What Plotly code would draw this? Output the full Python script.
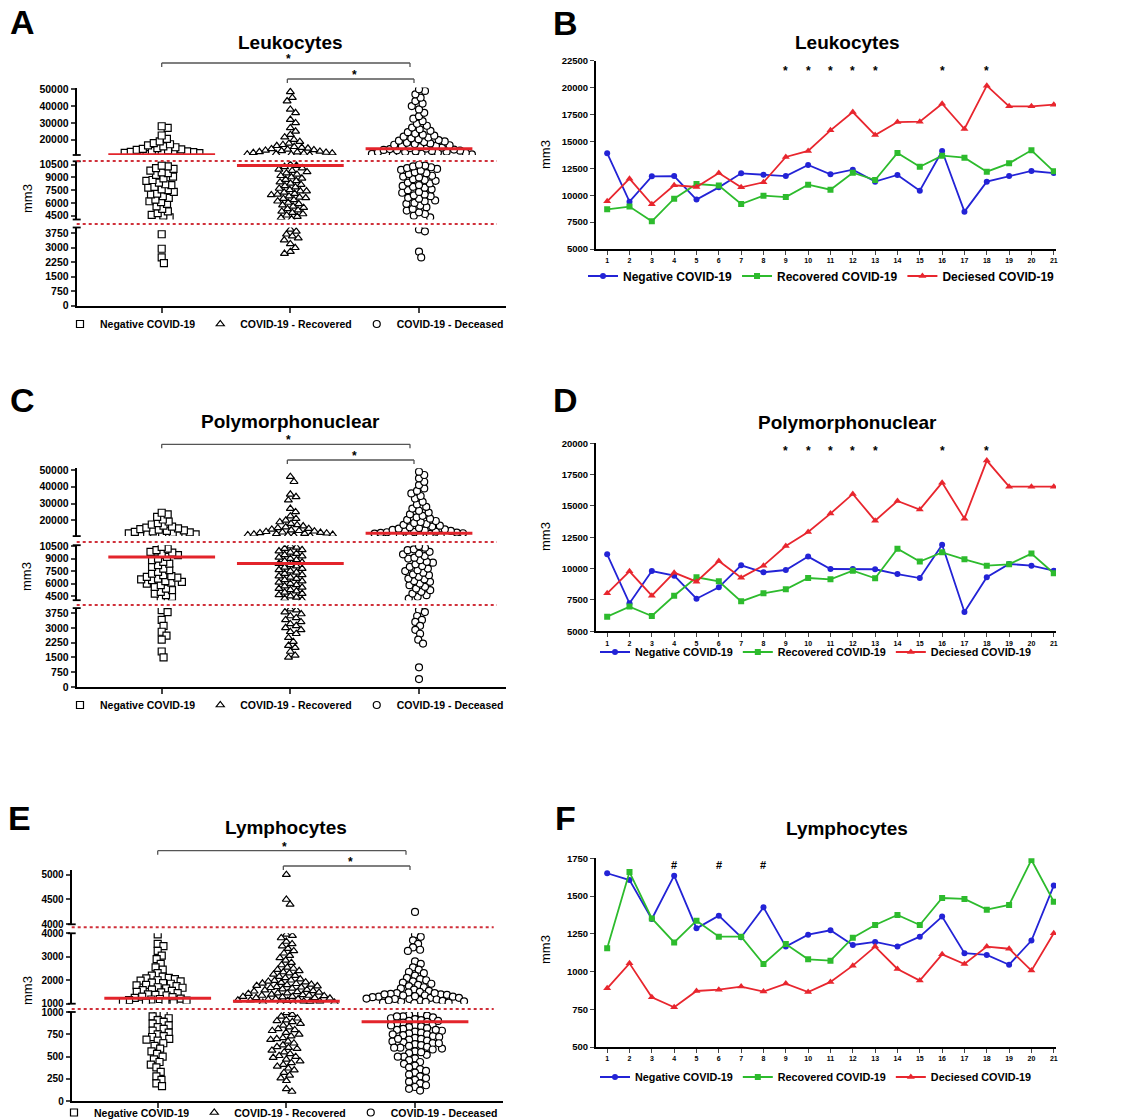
import math
import plotly.graph_objects as go

# ------------------------------------------------------------------ data
days = list(range(1, 22))
line_groups = ["Negative COVID-19", "Recovered COVID-19", "Deciesed COVID-19"]
swarm_groups = ["Negative COVID-19", "COVID-19 - Recovered", "COVID-19 - Deceased"]

# B - Leukocytes by day
leuk_line_neg = [13900, 9400, 11750, 11780, 9590, 10730, 12030, 11910, 11780, 12810, 11940,
                 12370, 11260, 11880, 10420, 14110, 8470, 11260, 11780, 12250, 12060]
leuk_line_rec = [8690, 8940, 7570, 9680, 11040, 10890, 9180, 9960, 9830, 10980, 10510,
                 12090, 11410, 13920, 12650, 13670, 13490, 12190, 12960, 14170, 12220]
leuk_line_dec = [9430, 11540, 9150, 10920, 10760, 12060, 10730, 11200, 13550, 14110, 16030,
                 17730, 15590, 16800, 16830, 18500, 16150, 20180, 18260, 18260, 18410]
leuk_star_days = [9, 10, 11, 12, 13, 16, 18]

# D - Polymorphonuclear by day
pmn_line_neg = [11140, 7230, 9810, 9440, 7600, 8510, 10260, 9710, 9890, 10960, 9970,
                9970, 9950, 9570, 9250, 11910, 6540, 9310, 10370, 10240, 9840]
pmn_line_rec = [6170, 6970, 6220, 7840, 9310, 8990, 7390, 8030, 8350, 9250, 9150,
                9840, 9230, 11590, 10560, 11300, 10740, 10240, 10340, 11200, 9630]
pmn_line_dec = [8030, 9790, 7840, 9680, 8960, 10610, 9280, 10240, 11810, 12920, 14390,
                15960, 13830, 15400, 14710, 16860, 13990, 18620, 16540, 16540, 16540]
pmn_star_days = [9, 10, 11, 12, 13, 16, 18]

# F - Lymphocytes by day
lym_line_neg = [1651, 1606, 1348, 1635, 1286, 1370, 1227, 1425, 1165, 1244, 1273,
                1176, 1196, 1165, 1231, 1364, 1121, 1110, 1045, 1205, 1569]
lym_line_rec = [1154, 1659, 1352, 1193, 1337, 1231, 1231, 1050, 1182, 1081, 1072,
                1224, 1308, 1375, 1308, 1487, 1481, 1410, 1441, 1739, 1463]
lym_line_dec = [889, 1054, 829, 763, 871, 880, 900, 867, 920, 864, 931,
                1039, 1165, 1017, 940, 1114, 1050, 1165, 1151, 1006, 1253]
lym_hash_days = [4, 6, 8]

# A - Leukocytes, individual values
leuk_neg = [11400, 11700, 12000, 12200, 12400, 12600, 12800, 13000, 13300, 13600, 13900, 14200,
            14600, 15000, 15500, 16000, 16600, 17300, 18000, 19000, 20500, 22500, 27000, 28000,
            4300, 4500, 4600, 4800, 5000, 5300, 5600, 5900, 6100, 6200, 6400, 6600, 6800, 7000,
            7100, 7300, 7500, 7600, 7800, 7900, 8100, 8200, 8400, 8600, 8700, 8900, 9100, 9300,
            9500, 9600, 9800, 10000, 10100, 10300, 10400,
            3700, 2950, 2500, 2200]
leuk_rec = [11000, 11200, 11400, 11600, 11800, 12000, 12200, 12400, 12600, 12800, 13000, 13300,
            13600, 13900, 14200, 14500, 14900, 15300, 15800, 16400, 17000, 17800, 18800, 20000,
            21500, 23000, 25000, 27000, 30000, 32000, 36000, 38000, 43000, 45000, 48500,
            4100, 4250, 4400, 4550, 4700, 4850, 5000, 5150, 5300, 5450, 5600, 5750, 5900, 6050,
            6200, 6350, 6500, 6650, 6800, 6950, 7100, 7250, 7400, 7550, 7700, 7850, 8000, 8150,
            8300, 8450, 8600, 8750, 8900, 9050, 9200, 9350, 9500, 9650, 9800, 9950, 10100, 10250,
            10400, 10500, 6600, 7000, 7400,
            3950, 3850, 3700, 3600, 3500, 3400, 3200, 3000, 2800, 2700]
leuk_dec = [11000, 11300, 11600, 11900, 12100, 12300, 12500, 12700, 12900, 13100, 13300, 13500,
            13700, 13900, 14100, 14400, 14700, 15000, 15300, 15600, 16000, 16300, 16700, 17000,
            17400, 17800, 18200, 18600, 19000, 19400, 19800, 20300, 20800, 21300, 21800, 22400,
            23000, 23700, 24500, 25300, 26200, 27200, 28300, 29500, 31000, 32500, 34000, 36000,
            38000, 40000, 41500, 43000, 45000, 47000, 49000, 50000,
            4300, 4500, 4700, 4900, 5100, 5300, 5500, 5700, 5900, 6000, 6200, 6300, 6500, 6600,
            6800, 6900, 7000, 7200, 7300, 7500, 7600, 7800, 7900, 8000, 8100, 8300, 8400, 8600,
            8700, 8800, 9000, 9100, 9200, 9400, 9500, 9600, 9800, 9900, 10000, 10100, 10200,
            10300, 10400, 10500,
            3950, 3850, 2800, 2500]
leuk_median = [11100, 10400, 14600]

# C - Polymorphonuclear, individual values
pmn_neg = [11000, 11300, 11600, 11900, 12200, 12500, 12800, 13100, 13400, 13700, 14000, 14400,
           14800, 15200, 15700, 16200, 16800, 17500, 18300, 19300, 20500, 22000, 23500, 24500,
           4200, 4400, 4600, 4800, 5000, 5200, 5400, 5600, 5800, 6000, 6100, 6200, 6300, 6400,
           6500, 6600, 6700, 6800, 6900, 7000, 7200, 7400, 7600, 7800, 8000, 8200, 8400, 8600,
           8800, 9000, 9200, 9400, 9600, 9700, 9800, 10000, 10200, 10400,
           3900, 3800, 3400, 3100, 2800, 2600, 2400, 1800, 1500]
pmn_rec = [10700, 10900, 11100, 11300, 11500, 11700, 11900, 12100, 12300, 12500, 12700, 12900,
           13200, 13500, 13800, 14200, 14600, 15000, 15500, 16000, 16600, 17300, 18000, 19000,
           20000, 21000, 22500, 25000, 27000, 32000, 34000, 35500, 43000, 46000,
           4050, 4200, 4350, 4500, 4650, 4800, 4950, 5100, 5250, 5400, 5550, 5700, 5850, 6000,
           6150, 6300, 6450, 6600, 6750, 6900, 7050, 7200, 7350, 7500, 7650, 7800, 7950, 8100,
           8250, 8400, 8550, 8700, 8850, 9000, 9150, 9300, 9450, 9600, 9750, 9900, 10050, 10200,
           10350, 10500,
           3950, 3900, 3800, 3700, 3600, 3500, 3400, 3300, 3200, 3100, 3000, 2900, 2800, 2700,
           2500, 2300, 2100, 2000, 1800, 1600, 1500]
pmn_dec = [10700, 11000, 11300, 11600, 11900, 12100, 12300, 12500, 12700, 12900, 13100, 13300,
           13500, 13700, 14000, 14300, 14600, 15000, 15400, 15800, 16300, 16800, 17300, 17800,
           18400, 19000, 19600, 20300, 21000, 21800, 22700, 23600, 24600, 25700, 27000, 28000,
           29500, 31000, 33000, 34500, 36000, 37500, 39000, 41000, 43000, 45000, 47000, 49000,
           4200, 4400, 4600, 4800, 5000, 5200, 5400, 5600, 5800, 6000, 6200, 6300, 6500, 6600,
           6800, 7000, 7100, 7300, 7500, 7600, 7800, 8000, 8100, 8300, 8500, 8600, 8800, 9000,
           9100, 9300, 9500, 9600, 9800, 10000, 10100, 10300, 10500,
           3900, 3800, 3600, 3400, 3300, 3100, 2900, 2700, 2400, 2200, 1000, 400]
pmn_median = [9170, 8400, 12260]

# E - Lymphocytes, individual values
lym_neg = [3950, 3550, 3450, 3250, 3050, 2900, 2700, 2550, 2450, 2300, 2200, 2150, 2100, 2080,
           2050, 2000, 1980, 1950, 1900, 1880, 1850, 1800, 1780, 1750, 1700, 1680, 1650, 1600,
           1580, 1550, 1500, 1480, 1450, 1400, 1380, 1350, 1300, 1280, 1250, 1220, 1200, 1180,
           1150, 1130, 1100, 1080, 1050, 1020,
           990, 970, 950, 930, 910, 890, 870, 850, 830, 810, 790, 770, 750, 730, 720, 700, 690,
           680, 650, 620, 590, 560, 530, 500, 470, 440, 410, 380, 330, 280, 240, 200, 170]
lym_rec = [5000, 4500, 4400,
           3950, 3900, 3800, 3650, 3550, 3450, 3350, 3250, 3150, 3050, 2950, 2850, 2750, 2650,
           2550, 2500, 2450, 2400, 2350, 2300, 2250, 2200, 2150, 2100, 2050, 2000, 1980, 1950,
           1920, 1900, 1870, 1850, 1820, 1800, 1770, 1750, 1720, 1700, 1680, 1650, 1620, 1600,
           1580, 1550, 1530, 1500, 1480, 1450, 1430, 1400, 1380, 1350, 1330, 1300, 1280, 1250,
           1230, 1200, 1180, 1150, 1130, 1100, 1080, 1050, 1030, 1010,
           1350, 1250, 1150, 1050, 1450, 1300, 1200, 1100,
           990, 970, 950, 930, 910, 890, 870, 850, 830, 810, 790, 770, 750, 730, 710, 690, 670,
           650, 630, 610, 590, 570, 550, 530, 510, 490, 470, 450, 430, 410, 390, 370, 350, 320,
           290, 260, 230, 140, 110, 900, 800, 700, 600, 500]
lym_dec = [4250,
           3950, 3850, 3700, 3550, 3400, 3300, 3250, 2800, 2700, 2550, 2450, 2350, 2300, 2200,
           2100, 2050, 2000, 1950, 1900, 1850, 1800, 1750, 1700, 1650, 1600, 1550, 1500, 1450,
           1400, 1350, 1300, 1250, 1200, 1150, 1100, 1050,
           1480, 1450, 1420, 1400, 1380, 1350, 1320, 1300, 1280, 1250, 1220, 1200, 1180, 1150,
           1120, 1100, 1080, 1050, 1020,
           990, 980, 970, 960, 950, 940, 930, 920, 910, 900, 890, 880, 870, 860, 850, 840, 830,
           820, 810, 800, 790, 780, 770, 760, 750, 740, 730, 720, 710, 700, 690, 680, 670, 660,
           650, 640, 630, 620, 610, 600, 590, 580, 560, 540, 520, 500, 480, 460, 440, 420, 400,
           380, 360, 340, 320, 300, 280, 260, 240, 220, 200, 180, 160, 140, 120,
           950, 900, 850, 800, 750, 700, 650, 600, 550, 500]
lym_median = [1230, 1100, 891]

# tick labels of the broken axes
wbc_ticks_low = [0, 750, 1500, 2250, 3000, 3750]
wbc_ticks_mid = [4500, 6000, 7500, 9000, 10500]
wbc_ticks_high = [20000, 30000, 40000, 50000]
lym_ticks_low = [0, 250, 500, 750, 1000]
lym_ticks_mid = [1000, 2000, 3000, 4000]
lym_ticks_high = [4000, 4500, 5000]

# ------------------------------------------------------------------ style / layout
W, H = 1135, 1120
FONT = "Liberation Sans, Arial, sans-serif"
RED = "#e3242b"
DOT_RED = "#d0303a"
LINE_COLORS = ["#2323d6", "#2dbb2d", "#e8262e"]
LINE_SYMBOLS = ["circle", "square", "triangle-up"]
SWARM_SYMBOLS = ["square", "triangle-up", "circle"]
SWARM_D = 6.2


def xp(px):
    return px / W


def yp(py):
    return 1 - py / H


def beeswarm(ys, d):
    order = sorted(range(len(ys)), key=lambda i: ys[i])
    placed = []
    xs = [0.0] * len(ys)
    for i in order:
        y = ys[i]
        iv = []
        for (xj, yj) in placed:
            dy = abs(y - yj)
            if dy < d:
                w = math.sqrt(d * d - dy * dy)
                iv.append((xj - w, xj + w))
        cands = [0.0] + [a for a, _ in iv] + [b for _, b in iv]
        cands.sort(key=lambda c: (abs(c), -c))
        for c in cands:
            if all(not (a + 1e-9 < c < b - 1e-9) for a, b in iv):
                xs[i] = c
                break
        placed.append((xs[i], y))
    return xs


fig = go.Figure()
layout = dict(width=W, height=H, template="none",
              margin=dict(l=0, r=0, t=0, b=0, pad=0, autoexpand=False),
              paper_bgcolor="white", plot_bgcolor="white",
              font=dict(family=FONT, color="black"), showlegend=True)
shapes = []
annotations = []
counter = [0]


def new_axes():
    counter[0] += 1
    n = counter[0]
    s = "" if n == 1 else str(n)
    return "x" + s, "y" + s, "xaxis" + s, "yaxis" + s


def ann(text, x, y, size, bold=True, angle=0, xref="paper", yref="paper", color="black"):
    annotations.append(dict(text=text, x=x, y=y, xref=xref, yref=yref, showarrow=False,
                            xanchor="center", yanchor="middle", textangle=angle,
                            font=dict(family=FONT, size=size, color=color,
                                      weight="bold" if bold else "normal")))


def pline(x0, y0, x1, y1, color="black", width=1.5, dash="solid"):
    shapes.append(dict(type="line", xref="paper", yref="paper", x0=xp(x0), y0=yp(y0),
                       x1=xp(x1), y1=yp(y1), line=dict(color=color, width=width, dash=dash)))


left_panels = [
    dict(letter="A", title="Leukocytes", values=[leuk_neg, leuk_rec, leuk_dec], medians=leuk_median,
         x0=76.7, x1=506, c0=161.7, unit=128.65,
         segs=[(0, 4050, 227.5, 305.7, wbc_ticks_low), (4050, 10900, 161.3, 219.5, wbc_ticks_mid),
               (10900, 51000, 87.6, 155.0, wbc_ticks_high)],
         dots=(161, 224), letter_xy=(22, 22), title_y=43, ylab_y=199,
         br1=63, br2=79, legend="legend", legend_y=324, legend_x=60, tick_size=10.5),
    dict(letter="C", title="Polymorphonuclear", values=[pmn_neg, pmn_rec, pmn_dec], medians=pmn_median,
         x0=76.7, x1=506, c0=161.7, unit=128.65,
         segs=[(0, 4000, 608.1, 687.0, wbc_ticks_low), (4000, 10600, 545.2, 600.2, wbc_ticks_mid),
               (10600, 51000, 468.3, 536.1, wbc_ticks_high)],
         dots=(542, 605), letter_xy=(22, 400), title_y=421, ylab_y=577,
         br1=444.3, br2=460, legend="legend2", legend_y=705, legend_x=60, tick_size=10.5),
    dict(letter="E", title="Lymphocytes", values=[lym_neg, lym_rec, lym_dec], medians=lym_median,
         x0=71.7, x1=502.7, c0=157.7, unit=128.65,
         segs=[(0, 1000, 1012.0, 1101.3, lym_ticks_low), (1000, 4000, 933.3, 1003.7, lym_ticks_mid),
               (4000, 5100, 869.7, 924.3, lym_ticks_high)],
         dots=(927.3, 1009), letter_xy=(19, 818), title_y=827, ylab_y=991,
         br1=850.7, br2=866, legend="legend3", legend_y=1112.5, legend_x=54, tick_size=10),
]

for P in left_panels:
    seg_axes = []
    xr = [(P["x0"] - P["c0"]) / P["unit"], (P["x1"] - P["c0"]) / P["unit"]]
    for si, (lo, hi, top, bot, ticks) in enumerate(P["segs"]):
        xid, yid, xkey, ykey = new_axes()
        seg_axes.append((xid, yid))
        layout[xkey] = dict(domain=[xp(P["x0"]), xp(P["x1"])], range=xr, anchor=yid,
                            visible=(si == 0), showline=True, linecolor="black", linewidth=2,
                            ticks="outside", ticklen=5, tickwidth=1.5, tickvals=[0, 1, 2],
                            showticklabels=False, showgrid=False, zeroline=False,
                            fixedrange=True, automargin=False)
        layout[ykey] = dict(domain=[yp(bot), yp(top)], range=[lo, hi], anchor=xid,
                            showline=True, linecolor="black", linewidth=2, ticks="outside",
                            ticklen=4, tickwidth=1.5, tickvals=ticks, ticktext=[str(t) for t in ticks],
                            tickfont=dict(family=FONT, size=P["tick_size"], weight="bold"),
                            showgrid=False, zeroline=False, fixedrange=True, automargin=False)
        # break marks
        if si > 0:
            pline(P["x0"] - 4, bot, P["x0"] + 4, bot, width=1.8)
        if si < 2:
            pline(P["x0"] - 4, top, P["x0"] + 4, top, width=1.8)

    def to_px(v):
        for (lo, hi, top, bot, _t) in P["segs"]:
            if lo <= v <= hi:
                return top + (hi - v) / (hi - lo) * (bot - top)
        return None

    def seg_of(v):
        for si, (lo, hi, top, bot, _t) in enumerate(P["segs"]):
            if (lo <= v < hi) or (si == 2 and v == hi):
                return si
        return 0

    for gi, vals in enumerate(P["values"]):
        ys_px = [to_px(v) for v in vals]
        offs = beeswarm(ys_px, SWARM_D)
        first = True
        for si in range(3):
            idx = [i for i, v in enumerate(vals) if seg_of(v) == si]
            if not idx:
                continue
            xid, yid = seg_axes[si]
            fig.add_trace(go.Scatter(
                x=[gi + offs[i] / P["unit"] for i in idx], y=[vals[i] for i in idx],
                mode="markers", xaxis=xid, yaxis=yid, name=swarm_groups[gi],
                legend=P["legend"], showlegend=first, legendgroup=P["legend"] + str(gi),
                marker=dict(symbol=SWARM_SYMBOLS[gi], size=7, color="white",
                            line=dict(color="black", width=1.2)),
                hoverinfo="y"))
            first = False
        m = P["medians"][gi]
        ms = seg_of(m)
        shapes.append(dict(type="line", xref=seg_axes[ms][0], yref=seg_axes[ms][1],
                           x0=gi - 0.415, x1=gi + 0.415, y0=m, y1=m,
                           line=dict(color=RED, width=3)))

    # reference-range dotted lines
    for dy in P["dots"]:
        pline(P["x0"], dy, P["x1"] - 9, dy, color=DOT_RED, width=2, dash="dot")
    # significance brackets
    c = [P["c0"] + k * P["unit"] for k in range(3)]
    for (xa, xb, yy) in [(c[0], c[2] - 9, P["br1"]), (c[1] - 3, c[2] - 5, P["br2"])]:
        pline(xa, yy, xb, yy, color="#555555", width=1.3)
        pline(xa, yy, xa, yy + 4, color="#555555", width=1.3)
        pline(xb, yy, xb, yy + 4, color="#555555", width=1.3)
    ann("*", xp((c[0] + c[2]) / 2 - 2), yp(P["br1"] - 4), 12)
    ann("*", xp((c[1] + c[2]) / 2), yp(P["br2"] - 4), 12)
    ann(P["title"], xp(c[1]), yp(P["title_y"]), 19)
    ann(P["letter"], xp(P["letter_xy"][0]), yp(P["letter_xy"][1]), 34)
    ann("mm3", xp(27), yp(P["ylab_y"]), 13, bold=False, angle=-90)
    layout[P["legend"]] = dict(orientation="h", x=xp(P["legend_x"]), xanchor="left",
                               y=yp(P["legend_y"]), yanchor="middle", bgcolor="rgba(0,0,0,0)",
                               font=dict(family=FONT, size=10.5, weight="bold"),
                               itemwidth=30, traceorder="normal", tracegroupgap=0)

right_panels = [
    dict(letter="B", title="Leukocytes", series=[leuk_line_neg, leuk_line_rec, leuk_line_dec],
         yr=[5000, 22500], dtick=2500, top=60.7, bot=249.0, marks=leuk_star_days, mark="*",
         mark_y=71, letter_y=23, title_y=43, ylab_y=155, legend="legend4", legend_y=276,
         legend_x=583, legend_size=12),
    dict(letter="D", title="Polymorphonuclear", series=[pmn_line_neg, pmn_line_rec, pmn_line_dec],
         yr=[5000, 20000], dtick=2500, top=443.3, bot=631.3, marks=pmn_star_days, mark="*",
         mark_y=451, letter_y=400, title_y=422, ylab_y=537, legend="legend5", legend_y=652,
         legend_x=595, legend_size=10.8),
    dict(letter="F", title="Lymphocytes", series=[lym_line_neg, lym_line_rec, lym_line_dec],
         yr=[500, 1750], dtick=250, top=858.3, bot=1047.0, marks=lym_hash_days, mark="#",
         mark_y=865, letter_y=818, title_y=828, ylab_y=950, legend="legend6", legend_y=1077,
         legend_x=595, legend_size=10.8),
]

RX0, RX1 = 596.0, 1056.0
for P in right_panels:
    xid, yid, xkey, ykey = new_axes()
    layout[xkey] = dict(domain=[xp(RX0), xp(RX1)], range=[0.5, 21.1], anchor=yid,
                        showline=True, linecolor="black", linewidth=2, ticks="outside",
                        ticklen=4, tickwidth=1.2, tickvals=days, ticktext=[str(d) for d in days],
                        tickfont=dict(family=FONT, size=7, weight="bold"),
                        showgrid=False, zeroline=False, fixedrange=True, automargin=False)
    layout[ykey] = dict(domain=[yp(P["bot"]), yp(P["top"])], range=P["yr"], anchor=xid,
                        showline=True, linecolor="black", linewidth=2, ticks="outside",
                        ticklen=4, tickwidth=1.2, dtick=P["dtick"], tick0=P["yr"][0],
                        tickformat="d",
                        tickfont=dict(family=FONT, size=9.5, weight="bold"),
                        showgrid=False, zeroline=False, fixedrange=True, automargin=False)
    for gi, ser in enumerate(P["series"]):
        fig.add_trace(go.Scatter(
            x=days, y=ser, mode="lines+markers", xaxis=xid, yaxis=yid, name=line_groups[gi],
            legend=P["legend"], line=dict(color=LINE_COLORS[gi], width=1.8),
            marker=dict(symbol=LINE_SYMBOLS[gi], size=6 if gi < 2 else 7, color=LINE_COLORS[gi])))
    for d in P["marks"]:
        annotations.append(dict(text=P["mark"], x=d, y=yp(P["mark_y"]), xref=xid, yref="paper",
                                showarrow=False, xanchor="center", yanchor="middle",
                                font=dict(family=FONT, size=12 if P["mark"] == "*" else 11,
                                          weight="bold")))
    ann(P["title"], xp(847), yp(P["title_y"]), 19)
    ann(P["letter"], xp(565), yp(P["letter_y"]), 34)
    ann("mm3", xp(545), yp(P["ylab_y"]), 13, bold=False, angle=-90)
    layout[P["legend"]] = dict(orientation="h", x=xp(P["legend_x"]), xanchor="left",
                               y=yp(P["legend_y"]), yanchor="middle", bgcolor="rgba(0,0,0,0)",
                               font=dict(family=FONT, size=P["legend_size"], weight="bold"),
                               itemwidth=30, traceorder="normal", tracegroupgap=0)

layout["shapes"] = shapes
layout["annotations"] = annotations
fig.update_layout(**layout)
fig.write_html("out.html")
